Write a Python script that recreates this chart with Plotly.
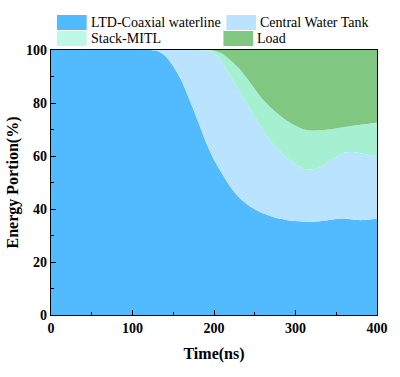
import plotly.graph_objects as go

time_ns = list(range(0, 410, 10))

# cumulative boundaries (%)
ltd_top = [100]*13 + [99.7, 97.8, 93.9, 88.6, 81.2, 73.4, 65.3, 58.6, 53.3, 48.4, 44.6,
                      41.9, 39.9, 38.4, 37.3, 36.4, 35.8, 35.5, 35.3, 35.2, 35.4, 35.8,
                      36.2, 36.4, 36.0, 35.8, 36.0, 36.3]
tank_top = [100]*19 + [99.8, 98.8, 95.5, 90.4, 85.2, 80.0, 74.8, 69.9, 65.5, 62.3, 59.2,
                       56.8, 55.2, 54.9, 55.8, 57.7, 59.7, 61.3, 61.5, 61.0, 60.4, 60.0]
mitl_top = [100]*20 + [99.8, 98.6, 96.2, 93.3, 89.5, 85.3, 81.3, 78.1, 75.5, 73.2, 71.4,
                       70.0, 69.6, 69.7, 70.0, 70.4, 70.9, 71.4, 71.8, 72.2, 72.6]

ltd = ltd_top
tank = [b - a for a, b in zip(ltd_top, tank_top)]
mitl = [b - a for a, b in zip(tank_top, mitl_top)]
load = [100 - a for a in mitl_top]

names = ["LTD-Coaxial waterline", "Central Water Tank", "Stack-MITL", "Load"]
colors = ["#52BBFF", "#B9E3FF", "#A4F0D0", "#80C882"]
legend_colors = ["#52BBFF", "#B9E3FF", "#BDF9E6", "#80C882"]
series = [ltd, tank, mitl, load]

fig = go.Figure()
for name, vals, col in zip(names, series, colors):
    fig.add_trace(go.Scatter(x=time_ns, y=vals, name=name, stackgroup="one",
                             mode="lines", line=dict(width=0, shape="spline", smoothing=0.6),
                             fillcolor=col, showlegend=False, hoverinfo="skip"))

# manual legend
pos = [(57, 15, 89), (228, 15, 260), (57, 31, 89), (225, 31, 257)]
W, H = 400, 377
for (sx, sy, tx), name, col in zip(pos, names, legend_colors):
    fig.add_shape(type="rect", xref="paper", yref="paper",
                  x0=(sx-51)/329, x1=(sx+30-51)/329,
                  y0=(315-(sy+15))/265, y1=(315-sy)/265,
                  fillcolor=col, line=dict(width=0))
    fig.add_annotation(text=name, xref="paper", yref="paper",
                       x=(tx-51)/329, y=(315-(sy+7.5))/265, xanchor="left", yanchor="middle",
                       showarrow=False, font=dict(family="Liberation Serif", size=14, color="black"))

axis_common = dict(showline=True, linecolor="black", linewidth=1.2, mirror=True,
                   ticks="inside", ticklen=5, tickcolor="black", showgrid=False, zeroline=False,
                   tickfont=dict(family="Liberation Serif", size=14, color="black", weight="bold"))

fig.update_xaxes(range=[0, 400], tickvals=[0, 100, 200, 300, 400],
                 minor=dict(tickvals=[50, 150, 250, 350], ticks="inside", ticklen=3, tickcolor="black"),
                 title=dict(text="<b>Time(ns)</b>", font=dict(family="Liberation Serif", size=16, color="black"), standoff=12),
                 **axis_common)
fig.update_yaxes(range=[0, 100], tickvals=[0, 20, 40, 60, 80, 100],
                 minor=dict(tickvals=[10, 30, 50, 70, 90], ticks="inside", ticklen=3, tickcolor="black"),
                 title=dict(text="<b>Energy Portion(%)</b>", font=dict(family="Liberation Serif", size=16, color="black"), standoff=3),
                 **axis_common)

fig.update_layout(width=W, height=H, margin=dict(l=51, r=20, t=50, b=62),
                  plot_bgcolor="white", paper_bgcolor="white", showlegend=False)

fig.write_html("out.html")
